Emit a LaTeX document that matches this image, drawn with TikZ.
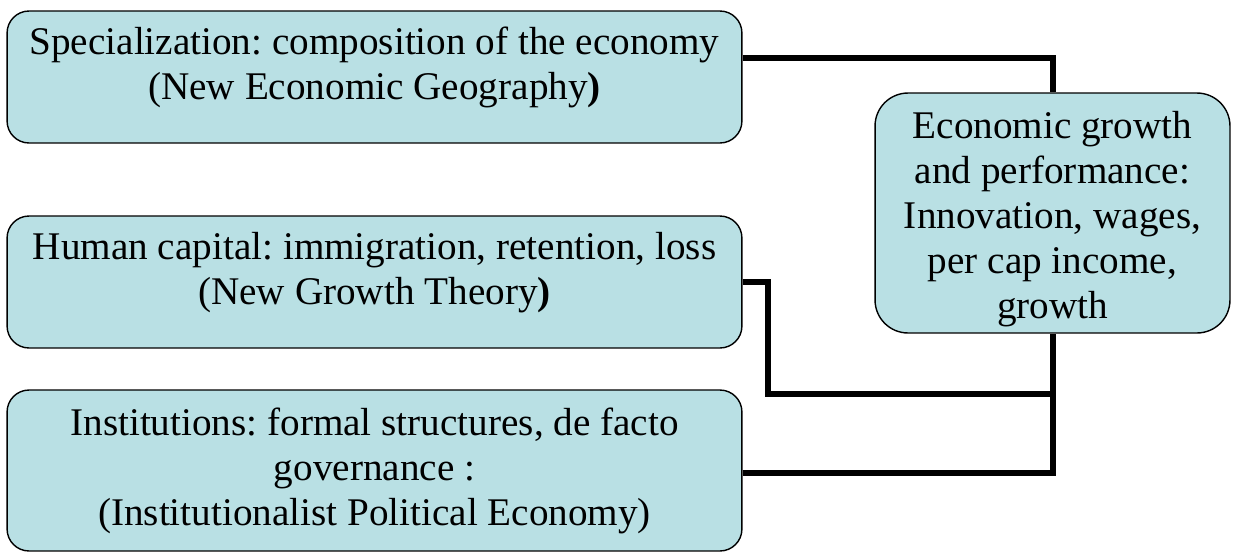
\documentclass[tikz,border=0pt]{standalone}
\usepackage{fontspec}
\setmainfont{LiberationSerif}[Extension=.ttf, UprightFont=*-Regular, BoldFont=*-Bold, ItalicFont=*-Italic, BoldItalicFont=*-BoldItalic]
\usetikzlibrary{positioning}
\definecolor{boxfill}{RGB}{185,224,228}
\frenchspacing
\tikzset{
  box/.style={draw, fill=boxfill, line width=0.8pt, rounded corners=0.44cm, inner sep=0pt},
  boxtext/.style={anchor=north, align=center, inner sep=0pt, font=\fontsize{22.3}{25.6}\selectfont},
  link/.style={line width=3.4pt}
}

\begin{document}
\begin{tikzpicture}[x=0.02cm, y=-0.02cm]
  \useasboundingbox (0,0) rectangle (1233,552);

  % the three sources on the left
  \node[box, minimum width=14.7cm, minimum height=2.64cm] (Spec) at (374.5,77) {};
  \node[box, minimum width=14.7cm, minimum height=2.64cm] (Human) at (374.5,282) {};
  \node[box, minimum width=14.7cm, minimum height=3.22cm] (Inst) at (374.5,470.5) {};
  % the outcome on the right
  \node[box, rounded corners=0.66cm, minimum width=7.1cm, minimum height=4.8cm] (Growth) at (1052.5,213) {};

  \node[boxtext] (SpecText) at (374.5,27) {Specialization: composition of the economy\\(New Economic Geography\textbf{)}};
  \node[boxtext] (HumanText) at (374.5,232) {Human capital: immigration, retention, loss\\(New Growth Theory\textbf{)}};
  \node[boxtext] (InstText) at (374.5,408) {Institutions: formal structures, de facto\\governance :\\(Institutionalist Political Economy)};
  \node[boxtext] (GrowthText) at (1052.5,111) {Economic growth\\and performance:\\Innovation, wages,\\per cap income,\\growth};

  \coordinate (specJoin) at (1052.5,58);
  \coordinate (humanBend) at (768,282);
  \coordinate (humanJoin) at (1052.5,394);
  \coordinate (instJoin) at (1052.5,473);

  \draw[link] (Spec.east |- specJoin) -| (Growth.north);
  \draw[link] (Human.east |- humanBend) -- (humanBend) |- (humanJoin);
  \draw[link] (Inst.east |- instJoin) -| (Growth.south);
\end{tikzpicture}
\end{document}
